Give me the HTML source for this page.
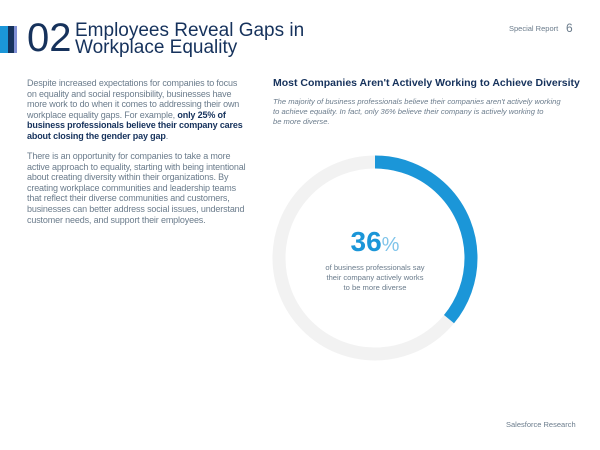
<!DOCTYPE html>
<html><head><style>
body{margin:0;width:600px;height:450px;background:#fff;position:relative;font-family:"Liberation Sans",sans-serif;overflow:hidden}
.a{position:absolute}
.p{font-size:9px;line-height:10.6px;color:#6b7c8c;white-space:nowrap;letter-spacing:-0.15px}
.p b{color:#16325c}
</style></head><body>
<div class="a" style="left:0;top:26px;width:8px;height:27px;background:#1b96d8"></div>
<div class="a" style="left:8px;top:26px;width:6px;height:27px;background:#16325c"></div>
<div class="a" style="left:14px;top:26px;width:3px;height:27px;background:#7f8fd4"></div>
<div class="a" style="left:27px;top:17px;font-size:40px;color:#16325c;line-height:42px">02</div>
<div class="a" style="left:75px;top:22px;font-size:19px;color:#16325c;line-height:17px">Employees Reveal Gaps in<br>Workplace Equality</div>
<div class="a" style="left:509px;top:24px;font-size:7.5px;color:#6b7c8c">Special Report</div>
<div class="a" style="left:566px;top:21px;font-size:12px;color:#6b7c8c">6</div>
<div class="a p" style="left:27px;top:78px">Despite increased expectations for companies to focus<br>on equality and social responsibility, businesses have<br>more work to do when it comes to addressing their own<br>workplace equality gaps. For example, <b>only 25% of</b><br><b>business professionals believe their company cares</b><br><b>about closing the gender pay gap</b>.</div>
<div class="a p" style="left:27px;top:151px">There is an opportunity for companies to take a more<br>active approach to equality, starting with being intentional<br>about creating diversity within their organizations. By<br>creating workplace communities and leadership teams<br>that reflect their diverse communities and customers,<br>businesses can better address social issues, understand<br>customer needs, and support their employees.</div>
<div class="a" style="left:273px;top:77px;font-size:10.5px;font-weight:bold;color:#16325c">Most Companies Aren't Actively Working to Achieve Diversity</div>
<div class="a" style="left:273px;top:97px;width:300px;font-size:7.6px;line-height:10px;font-style:italic;color:#6b7c8c;white-space:nowrap">The majority of business professionals believe their companies aren't actively working<br>to achieve equality. In fact, only 36% believe their company is actively working to<br>be more diverse.</div>
<svg class="a" style="left:0;top:0" width="600" height="450">
<circle cx="375" cy="258" r="96" fill="none" stroke="#f2f2f2" stroke-width="13"/>
<circle cx="375" cy="258" r="96" fill="none" stroke="#1b96d8" stroke-width="13" stroke-dasharray="217 1000" transform="rotate(-90 375 258)"/>
</svg>
<div class="a" style="left:300px;top:226px;width:150px;text-align:center;color:#1b96d8"><span style="font-size:28px;font-weight:bold">36</span><span style="font-size:20px;color:#7fc4ea">%</span></div>
<div class="a" style="left:300px;top:263px;width:150px;text-align:center;font-size:7.6px;line-height:10px;color:#6b7c8c">of business professionals say<br>their company actively works<br>to be more diverse</div>
<div class="a" style="left:506px;top:420px;font-size:7.5px;color:#6b7c8c">Salesforce Research</div>
</body></html>
